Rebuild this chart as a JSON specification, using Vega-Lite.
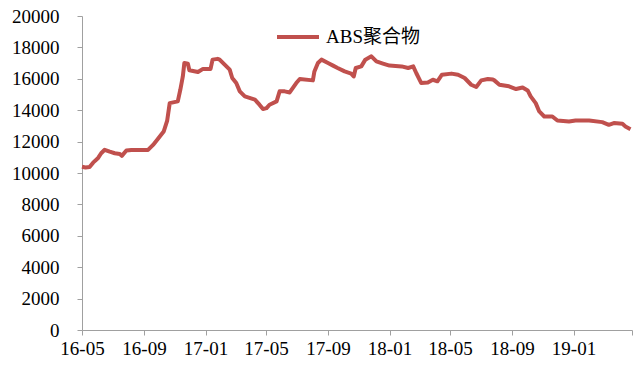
{
  "$schema": "https://vega.github.io/schema/vega-lite/v6.json",
  "width": 550,
  "height": 314,
  "autosize": {"type": "none"},
  "padding": {"left": 82, "top": 16, "right": 1, "bottom": 40},
  "background": "white",
  "config": {"view": {"stroke": null}},
  "data": {"values": [
    {"date": "2016-05-01", "value": 10400, "series": "ABS聚合物"},
    {"date": "2016-05-08", "value": 10350, "series": "ABS聚合物"},
    {"date": "2016-05-16", "value": 10380, "series": "ABS聚合物"},
    {"date": "2016-05-23", "value": 10660, "series": "ABS聚合物"},
    {"date": "2016-06-02", "value": 10960, "series": "ABS聚合物"},
    {"date": "2016-06-08", "value": 11260, "series": "ABS聚合物"},
    {"date": "2016-06-15", "value": 11480, "series": "ABS聚合物"},
    {"date": "2016-06-25", "value": 11360, "series": "ABS聚合物"},
    {"date": "2016-07-05", "value": 11260, "series": "ABS聚合物"},
    {"date": "2016-07-15", "value": 11210, "series": "ABS聚合物"},
    {"date": "2016-07-19", "value": 11090, "series": "ABS聚合物"},
    {"date": "2016-07-28", "value": 11430, "series": "ABS聚合物"},
    {"date": "2016-08-07", "value": 11470, "series": "ABS聚合物"},
    {"date": "2016-09-09", "value": 11470, "series": "ABS聚合物"},
    {"date": "2016-09-19", "value": 11790, "series": "ABS聚合物"},
    {"date": "2016-09-28", "value": 12150, "series": "ABS聚合物"},
    {"date": "2016-10-10", "value": 12640, "series": "ABS聚合物"},
    {"date": "2016-10-17", "value": 13340, "series": "ABS聚合物"},
    {"date": "2016-10-22", "value": 14450, "series": "ABS聚合物"},
    {"date": "2016-11-07", "value": 14560, "series": "ABS聚合物"},
    {"date": "2016-11-12", "value": 15300, "series": "ABS聚合物"},
    {"date": "2016-11-17", "value": 16150, "series": "ABS聚合物"},
    {"date": "2016-11-20", "value": 17010, "series": "ABS聚合物"},
    {"date": "2016-11-27", "value": 16960, "series": "ABS聚合物"},
    {"date": "2016-11-30", "value": 16540, "series": "ABS聚合物"},
    {"date": "2016-12-17", "value": 16430, "series": "ABS聚合物"},
    {"date": "2016-12-27", "value": 16630, "series": "ABS聚合物"},
    {"date": "2017-01-11", "value": 16630, "series": "ABS聚合物"},
    {"date": "2017-01-15", "value": 17220, "series": "ABS聚合物"},
    {"date": "2017-01-25", "value": 17270, "series": "ABS聚合物"},
    {"date": "2017-01-29", "value": 17220, "series": "ABS聚合物"},
    {"date": "2017-02-08", "value": 16900, "series": "ABS聚合物"},
    {"date": "2017-02-18", "value": 16580, "series": "ABS聚合物"},
    {"date": "2017-02-23", "value": 16050, "series": "ABS聚合物"},
    {"date": "2017-03-03", "value": 15730, "series": "ABS聚合物"},
    {"date": "2017-03-10", "value": 15200, "series": "ABS聚合物"},
    {"date": "2017-03-20", "value": 14880, "series": "ABS聚合物"},
    {"date": "2017-04-09", "value": 14670, "series": "ABS聚合物"},
    {"date": "2017-04-18", "value": 14350, "series": "ABS聚合物"},
    {"date": "2017-04-25", "value": 14070, "series": "ABS聚合物"},
    {"date": "2017-05-02", "value": 14130, "series": "ABS聚合物"},
    {"date": "2017-05-08", "value": 14350, "series": "ABS聚合物"},
    {"date": "2017-05-22", "value": 14560, "series": "ABS聚合物"},
    {"date": "2017-05-28", "value": 15200, "series": "ABS聚合物"},
    {"date": "2017-06-07", "value": 15200, "series": "ABS聚合物"},
    {"date": "2017-06-17", "value": 15130, "series": "ABS聚合物"},
    {"date": "2017-06-30", "value": 15730, "series": "ABS聚合物"},
    {"date": "2017-07-07", "value": 15990, "series": "ABS聚合物"},
    {"date": "2017-08-02", "value": 15900, "series": "ABS聚合物"},
    {"date": "2017-08-05", "value": 16470, "series": "ABS聚合物"},
    {"date": "2017-08-12", "value": 17010, "series": "ABS聚合物"},
    {"date": "2017-08-19", "value": 17220, "series": "ABS聚合物"},
    {"date": "2017-09-01", "value": 17010, "series": "ABS聚合物"},
    {"date": "2017-09-11", "value": 16840, "series": "ABS聚合物"},
    {"date": "2017-09-20", "value": 16690, "series": "ABS聚合物"},
    {"date": "2017-10-04", "value": 16470, "series": "ABS聚合物"},
    {"date": "2017-10-17", "value": 16330, "series": "ABS聚合物"},
    {"date": "2017-10-22", "value": 16150, "series": "ABS聚合物"},
    {"date": "2017-10-26", "value": 16690, "series": "ABS聚合物"},
    {"date": "2017-11-06", "value": 16790, "series": "ABS聚合物"},
    {"date": "2017-11-14", "value": 17220, "series": "ABS聚合物"},
    {"date": "2017-11-26", "value": 17430, "series": "ABS聚合物"},
    {"date": "2017-12-06", "value": 17110, "series": "ABS聚合物"},
    {"date": "2017-12-19", "value": 16970, "series": "ABS聚合物"},
    {"date": "2018-01-01", "value": 16840, "series": "ABS聚合物"},
    {"date": "2018-01-25", "value": 16790, "series": "ABS聚合物"},
    {"date": "2018-02-07", "value": 16690, "series": "ABS聚合物"},
    {"date": "2018-02-17", "value": 16790, "series": "ABS聚合物"},
    {"date": "2018-02-23", "value": 16370, "series": "ABS聚合物"},
    {"date": "2018-03-05", "value": 15730, "series": "ABS聚合物"},
    {"date": "2018-03-18", "value": 15770, "series": "ABS聚合物"},
    {"date": "2018-03-28", "value": 15940, "series": "ABS聚合物"},
    {"date": "2018-04-06", "value": 15840, "series": "ABS聚合物"},
    {"date": "2018-04-15", "value": 16260, "series": "ABS聚合物"},
    {"date": "2018-05-04", "value": 16330, "series": "ABS聚合物"},
    {"date": "2018-05-17", "value": 16260, "series": "ABS聚合物"},
    {"date": "2018-05-30", "value": 16050, "series": "ABS聚合物"},
    {"date": "2018-06-12", "value": 15620, "series": "ABS聚合物"},
    {"date": "2018-06-22", "value": 15480, "series": "ABS聚合物"},
    {"date": "2018-07-02", "value": 15900, "series": "ABS聚合物"},
    {"date": "2018-07-15", "value": 15990, "series": "ABS聚合物"},
    {"date": "2018-07-25", "value": 15950, "series": "ABS聚合物"},
    {"date": "2018-07-28", "value": 15900, "series": "ABS聚合物"},
    {"date": "2018-08-07", "value": 15620, "series": "ABS聚合物"},
    {"date": "2018-08-26", "value": 15520, "series": "ABS聚合物"},
    {"date": "2018-09-09", "value": 15350, "series": "ABS聚合物"},
    {"date": "2018-09-22", "value": 15450, "series": "ABS聚合物"},
    {"date": "2018-10-02", "value": 15260, "series": "ABS聚合物"},
    {"date": "2018-10-08", "value": 14880, "series": "ABS聚合物"},
    {"date": "2018-10-18", "value": 14450, "series": "ABS聚合物"},
    {"date": "2018-10-25", "value": 13920, "series": "ABS聚合物"},
    {"date": "2018-11-04", "value": 13600, "series": "ABS聚合物"},
    {"date": "2018-11-20", "value": 13600, "series": "ABS聚合物"},
    {"date": "2018-11-30", "value": 13340, "series": "ABS聚合物"},
    {"date": "2018-12-23", "value": 13280, "series": "ABS聚合物"},
    {"date": "2019-01-05", "value": 13340, "series": "ABS聚合物"},
    {"date": "2019-02-01", "value": 13340, "series": "ABS聚合物"},
    {"date": "2019-02-27", "value": 13240, "series": "ABS聚合物"},
    {"date": "2019-03-12", "value": 13070, "series": "ABS聚合物"},
    {"date": "2019-03-22", "value": 13180, "series": "ABS聚合物"},
    {"date": "2019-04-08", "value": 13130, "series": "ABS聚合物"},
    {"date": "2019-04-14", "value": 12960, "series": "ABS聚合物"},
    {"date": "2019-04-24", "value": 12790, "series": "ABS聚合物"}
  ]},
  "mark": {"type": "line", "strokeWidth": 4, "strokeJoin": "round", "strokeCap": "butt"},
  "encoding": {
    "x": {
      "field": "date",
      "type": "temporal",
      "scale": {
        "type": "utc",
        "domain": [
          {"year": 2016, "month": 5, "date": 1, "utc": true},
          {"year": 2019, "month": 4, "date": 27, "utc": true}
        ]
      },
      "axis": {
        "title": null,
        "grid": false,
        "values": [
          {"year": 2016, "month": 5, "date": 1, "utc": true},
          {"year": 2016, "month": 9, "date": 1, "utc": true},
          {"year": 2017, "month": 1, "date": 1, "utc": true},
          {"year": 2017, "month": 5, "date": 1, "utc": true},
          {"year": 2017, "month": 9, "date": 1, "utc": true},
          {"year": 2018, "month": 1, "date": 1, "utc": true},
          {"year": 2018, "month": 5, "date": 1, "utc": true},
          {"year": 2018, "month": 9, "date": 1, "utc": true},
          {"year": 2019, "month": 1, "date": 1, "utc": true},
          {"year": 2019, "month": 4, "date": 27, "utc": true}
        ],
        "labelExpr": "month(datum.value) == 3 && year(datum.value) == 2019 ? '' : utcFormat(datum.value, '%y-%m')",
        "labelFont": "Liberation Serif",
        "labelFontSize": 19,
        "labelColor": "black",
        "labelPadding": 4,
        "labelFlush": false,
        "labelOverlap": false,
        "domainColor": "#A0A0A0",
        "tickColor": "#A0A0A0",
        "tickSize": 5
      }
    },
    "y": {
      "field": "value",
      "type": "quantitative",
      "scale": {"domain": [0, 20000], "nice": false},
      "axis": {
        "title": null,
        "grid": false,
        "values": [0, 2000, 4000, 6000, 8000, 10000, 12000, 14000, 16000, 18000, 20000],
        "format": "d",
        "labelFont": "Liberation Serif",
        "labelFontSize": 19,
        "labelColor": "black",
        "labelPadding": 18,
        "labelFlush": false,
        "labelOverlap": false,
        "domainColor": "#A0A0A0",
        "tickColor": "#A0A0A0",
        "tickSize": 5
      }
    },
    "color": {
      "field": "series",
      "type": "nominal",
      "scale": {"range": ["#C0504D"]},
      "legend": {
        "title": null,
        "orient": "none",
        "legendX": 193,
        "legendY": -2,
        "symbolType": "stroke",
        "symbolSize": 1764,
        "symbolStrokeWidth": 4,
        "labelFont": "Liberation Serif, Noto Sans CJK SC",
        "labelFontSize": 19,
        "labelColor": "black",
        "labelOffset": 5
      }
    }
  }
}
